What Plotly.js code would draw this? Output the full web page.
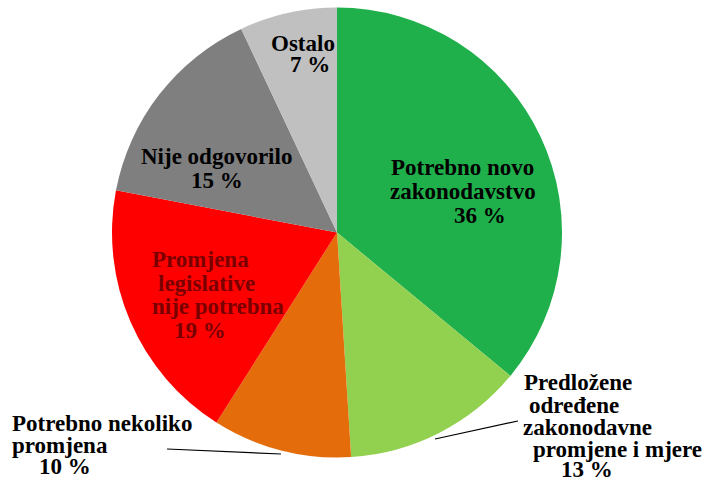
<!DOCTYPE html>
<html>
<head>
<meta charset="utf-8">
<script src="https://cdn.plot.ly/plotly-3.0.1.min.js"></script>
<style>
  html, body { margin: 0; padding: 0; background: #ffffff; }
  #chart { width: 706px; height: 481px; }
</style>
</head>
<body>
<div id="chart"></div>
<script>
// ---- data ----
var categories = [
  "Potrebno novo zakonodavstvo",
  "Predložene određene zakonodavne promjene i mjere",
  "Potrebno nekoliko promjena",
  "Promjena legislative nije potrebna",
  "Nije odgovorilo",
  "Ostalo"
];
var values = [36, 13, 10, 19, 15, 7];
var sliceColors = ["#20b04b", "#92d050", "#e46c0a", "#ff0000", "#7f7f7f", "#c0c0c0"];
// label lines as printed in the picture (percent line added from values)
var labelLines = [
  ["Potrebno novo", "zakonodavstvo"],
  ["Predložene", "određene", "zakonodavne", "promjene i mjere"],
  ["Potrebno nekoliko", "promjena"],
  ["Promjena", "legislative", "nije potrebna"],
  ["Nije odgovorilo"],
  ["Ostalo"]
];
var labelColors = ["#000000", "#000000", "#000000", "#7a0000", "#000000", "#000000"];

// ---- layout placement (pixels in the 706x481 frame) ----
var W = 706, H = 481;
var placement = [
  [[462, 167], [463, 191], [480, 215]],
  [[578, 382], [574, 405], [587, 427], [617, 449], [587, 469]],
  [[102, 423], [60, 445], [65, 466]],
  [[200, 259], [206, 283], [218, 306], [200, 330]],
  [[216, 156], [217, 180]],
  [[303, 43], [310, 64]]
];

var annotations = [];
for (var i = 0; i < categories.length; i++) {
  var lines = labelLines[i].concat([values[i] + " %"]);
  for (var j = 0; j < lines.length; j++) {
    var p = placement[i][j];
    annotations.push({
      text: "<b>" + lines[j] + "</b>",
      x: p[0] / W, y: 1 - p[1] / H,
      xref: "paper", yref: "paper",
      xanchor: "center", yanchor: "middle",
      showarrow: false,
      font: { family: "Liberation Serif", size: 23, color: labelColors[i] }
    });
  }
}

var cx = 337, cy = 232.5, r = 225;
var trace = {
  type: "pie",
  labels: categories,
  values: values,
  marker: { colors: sliceColors, line: { width: 0 } },
  sort: false,
  direction: "clockwise",
  rotation: 0,
  textinfo: "none",
  hoverinfo: "label+percent",
  showlegend: false,
  domain: { x: [(cx - r) / W, (cx + r) / W], y: [1 - (cy + r) / H, 1 - (cy - r) / H] }
};

var leaderLines = [
  { x0: 167, y0: 449, x1: 281, y1: 454 },
  { x0: 435, y0: 439, x1: 518, y1: 421 }
];
var shapes = leaderLines.map(function (l) {
  return {
    type: "line", xref: "paper", yref: "paper",
    x0: l.x0 / W, y0: 1 - l.y0 / H, x1: l.x1 / W, y1: 1 - l.y1 / H,
    line: { color: "#000000", width: 1.2 }
  };
});

var layout = {
  width: W, height: H,
  margin: { l: 0, r: 0, t: 0, b: 0 },
  paper_bgcolor: "#ffffff",
  plot_bgcolor: "#ffffff",
  showlegend: false,
  annotations: annotations,
  shapes: shapes
};

Plotly.newPlot("chart", [trace], layout, { displayModeBar: false, staticPlot: true });
</script>
</body>
</html>
